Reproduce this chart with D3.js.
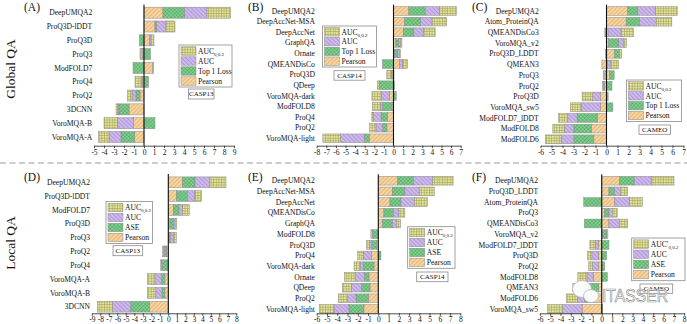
<!DOCTYPE html>
<html><head><meta charset="utf-8">
<script src="https://cdn.jsdelivr.net/npm/d3@7"></script>
<style>
body{margin:0;background:#fff}
svg text{font-family:"Liberation Serif","Times New Roman",serif;fill:#111}
</style></head><body>
<svg id="c" width="687" height="324"></svg>
<script>
// ---------------- DATA ----------------
const keys = ["pearson","top1","auc","auc02"];

// (A) CASP13 global
const modelsA = ["DeepUMQA2","ProQ3D-lDDT","ProQ3D","ProQ3","ModFOLD7","ProQ4","ProQ2","3DCNN","VoroMQA-B","VoroMQA-A"];
const pearsonA = [1.9, 1.1, 0.55, -0.05, 0.85, -0.15, -0.4, -1.5, -1.05, -0.95];
const top1A    = [2.17, 0.17, -0.45, 0.65, -1.05, 0.45, -0.4, -1.0, 1.1, -1.35];
const aucA     = [2.23, 0.93, 0.15, -0.15, -0.05, -0.1, -0.4, -0.1, -1.6, -1.2];
const auc02A   = [2.37, 0.9, 0.3, -0.2, 0.12, -0.65, -0.45, -0.2, -1.35, -1.05];
const ticksA   = [-5,-4,-3,-2,-1,0,1,2,3,4,5,6,7,8,9];

// (B) CASP14 global
const modelsB = ["DeepUMQA2","DeepAccNet-MSA","DeepAccNet","GraphQA","Ornate","QMEANDisCo","ProQ3D","QDeep","VoroMQA-dark","ModFOLD8","ProQ4","ProQ2","VoroMQA-light"];
const pearsonB = [1.6, 1.15, 1.04, 0.25, 0.1, 0.62, -0.15, 0.05, -0.45, -0.15, -0.63, -0.69, -2.53];
const top1B    = [1.7, 1.67, 1.08, 0.3, 0.35, -1.15, 0.05, -1.5, 0.28, -1.0, -0.66, -0.45, -0.52];
const aucB     = [1.5, 1.2, 1.04, 0.15, 0.15, 0.35, -0.1, 0.05, -0.83, -0.2, -0.8, -0.69, -2.47];
const auc02B   = [1.75, 1.52, 1.18, 0.18, 0.12, 0.49, -0.45, -0.17, -0.97, -0.85, -0.17, -0.66, -1.84];
const ticksB   = [-8,-7,-6,-5,-4,-3,-2,-1,0,1,2,3,4,5,6,7];

// (C) CAMEO global
const modelsC = ["DeepUMQA2","Atom_ProteinQA","QMEANDisCo3","VoroMQA_v2","ProQ3D_LDDT","QMEAN3","ProQ3","ProQ2","ProQ3D","VoroMQA_sw5","ModFOLD7_lDDT","ModFOLD8","ModFOLD6"];
const pearsonC = [1.94, 1.79, 0.15, 0.18, 0.73, -0.42, 0.3, -0.2, -0.55, -0.55, -0.85, -1.39, -1.15];
const top1C    = [0.91, 1.21, -0.15, 0.94, 0.45, 0.1, 0.4, 0.5, 0.15, 0.58, -1.82, -1.58, -1.82];
const aucC     = [1.58, 1.52, 1.18, 0.42, -0.1, 0.25, -0.15, -0.1, -0.7, -1.76, -0.85, -0.85, -1.15];
const auc02C   = [2.0, 1.42, 1.12, 0.27, 0.2, 0.75, -0.15, -0.06, -0.97, -0.97, -0.85, -1.06, -1.45];
const ticksC   = [-6,-5,-4,-3,-2,-1,0,1,2,3,4,5,6,7];

// (D) CASP13 local
const modelsD = ["DeepUMQA2","ProQ3D-lDDT","ModFOLD7","ProQ3D","ProQ3","ProQ2","ProQ4","VoroMQA-A","VoroMQA-B","3DCNN"];
const pearsonD = [1.69, 0.98, 0.59, 0.2, 0.1, -0.2, -0.1, -0.4, -0.4, -2.24];
const aseD     = [1.45, 1.25, 0.67, 0.4, 0.15, -0.25, -0.6, -0.4, -0.35, -2.2];
const aucD     = [1.69, 0.9, 0.43, 0.2, 0.4, -0.1, -0.1, -0.78, -0.72, -2.12];
const auc02D   = [1.96, 0.78, 0.78, 0.2, 0.3, -0.12, -0.1, -0.9, -1.0, -1.8];
const ticksD   = [-9,-8,-7,-6,-5,-4,-3,-2,-1,0,1,2,3,4,5,6,7,8];

// (E) CASP14 local
const modelsE = ["DeepUMQA2","DeepAccNet-MSA","DeepAccNet","QMEANDisCo","GraphQA","ModFOLD8","ProQ3D","ProQ4","VoroMQA-dark","Ornate","QDeep","ProQ2","VoroMQA-light"];
const pearsonE = [1.88, 1.36, 1.14, 0.55, 0.39, -0.1, -0.15, -0.65, -0.42, -0.91, -0.81, -0.97, -1.4];
const aseE     = [1.53, 1.23, 1.07, 0.91, 0.97, -0.4, -0.5, 0.26, -1.04, -0.45, -0.81, -1.2, -1.46];
const aucE     = [1.88, 1.4, 1.3, 0.55, 0.42, -0.1, -0.2, -0.81, -0.32, -0.84, -0.97, -0.81, -1.46];
const auc02E   = [2.0, 1.46, 1.27, 0.58, 0.39, -0.12, -0.3, -0.55, -0.58, -1.1, -0.91, -0.91, -1.43];
const ticksE   = [-6,-5,-4,-3,-2,-1,0,1,2,3,4,5,6,7,8];

// (F) CAMEO local
const modelsF = ["DeepUMQA2","ProQ3D_LDDT","Atom_ProteinQA","ProQ3","QMEANDisCo3","VoroMQA_v2","ModFOLD7_lDDT","ProQ3D","ProQ2","ModFOLD8","QMEAN3","ModFOLD6","VoroMQA_sw5"];
const pearsonF = [1.72, 0.7, 1.27, 0.29, 0.7, 0.05, -0.32, -0.32, -0.35, -0.83, -0.3, -1.05, -1.91];
const aseF     = [1.43, 0.54, -1.75, 0.41, -1.69, 0.4, 0.7, 0.48, 0.29, 0.54, -1.5, -0.65, 0.1];
const aucF     = [1.69, 0.57, 1.43, 0.32, 1.02, 0.05, -0.32, -0.64, -0.54, -0.6, -0.4, -0.65, -1.91];
const auc02F   = [2.17, 0.7, 1.24, 0.48, 0.8, 0.1, -0.51, -0.41, -0.38, -0.89, -0.6, -1.1, -1.46];
const ticksF   = [-6,-5,-4,-3,-2,-1,0,1,2,3,4,5,6,7,8];

const legendGlobal = ["AUC|0,0.2","AUC","Top 1 Loss","Pearson"];
const legendLocal  = ["AUC|0,0.2","AUC","ASE","Pearson"];
const legendLocalF = ["AUC′|0,0.2","AUC","ASE","Pearson"];

// ---------------- DRAWING ----------------
const svg = d3.select("#c");
const defs = svg.append("defs");

function makePattern(id, bg, size, rot, lines, stroke, sw){
  const p = defs.append("pattern").attr("id", id).attr("patternUnits","userSpaceOnUse")
    .attr("width", size).attr("height", size);
  if (rot) p.attr("patternTransform", `rotate(${rot})`);
  p.append("rect").attr("width", size).attr("height", size).attr("fill", bg);
  lines.forEach(l => p.append("line").attr("x1",l[0]).attr("y1",l[1]).attr("x2",l[2]).attr("y2",l[3])
     .attr("stroke", stroke).attr("stroke-width", sw));
}
makePattern("pat-pearson", "#f6d4a2", 3, 45, [[0,0,0,3]], "#d89a4e", 1.0);
makePattern("pat-auc", "#cdb9ea", 3, -45, [[0,0,0,3]], "#9878c8", 1.0);
makePattern("pat-top1", "#86cf92", 2.6, 45, [[0,0,0,2.6],[0,0,2.6,0]], "#3f9c55", 0.8);
makePattern("pat-auc02", "#e4e4a4", 2.6, 0, [[0.3,0,0.3,2.6],[0,0.3,2.6,0.3]], "#a2a24e", 0.7);

const legendKeys = ["auc02","auc","top1","pearson"];

const panels = [
  {tag:"(A)", tagPos:[24,10.5], models:modelsA, vals:[pearsonA,top1A,aucA,auc02A], ticks:ticksA,
   domain:[-5,9], xr:[94,234], yr:[12.7,137], bar:0.8, axisY:145.7,
   legend:legendGlobal, lg:{x:179,y:45,w:53,h:42}, ds:"CASP13", dsBox:{x:188.5,y:89,w:25.5,h:10}},
  {tag:"(B)", tagPos:[248,10.5], models:modelsB, vals:[pearsonB,top1B,aucB,auc02B], ticks:ticksB,
   domain:[-8,7], xr:[316.7,460.7], yr:[11,138.3], bar:0.82, axisY:145.7,
   legend:legendGlobal, lg:{x:322.5,y:26,w:54,h:41}, ds:"CASP14", dsBox:{x:334,y:70.7,w:31,h:9.5}},
  {tag:"(C)", tagPos:[472,10.5], models:modelsC, vals:[pearsonC,top1C,aucC,auc02C], ticks:ticksC,
   domain:[-6,7], xr:[540.5,683.5], yr:[11,139.3], bar:0.82, axisY:145.7,
   legend:legendGlobal, lg:{x:626.5,y:80,w:55,h:41.5}, ds:"CAMEO", dsBox:{x:639,y:125,w:31.5,h:9.3}},
  {tag:"(D)", tagPos:[24,181], models:modelsD, vals:[pearsonD,aseD,aucD,auc02D], ticks:ticksD,
   domain:[-9,8], xr:[91.8,236.3], yr:[182.3,306.7], bar:0.78, axisY:313.3,
   legend:legendLocal, lg:{x:106,y:201.5,w:46.5,h:42}, ds:"CASP13", dsBox:{x:113,y:245.7,w:29.7,h:10}},
  {tag:"(E)", tagPos:[248,181], models:modelsE, vals:[pearsonE,aseE,aucE,auc02E], ticks:ticksE,
   domain:[-6,8], xr:[316.7,460.4], yr:[180.7,309], bar:0.82, axisY:313.3,
   legend:legendLocal, lg:{x:407.7,y:226.7,w:47.3,h:41.6}, ds:"CASP14", dsBox:{x:416.7,y:272,w:31.3,h:9.7}},
  {tag:"(F)", tagPos:[472,181], models:modelsF, vals:[pearsonF,aseF,aucF,auc02F], ticks:ticksF,
   domain:[-6,8], xr:[539.9,684.2], yr:[180.7,309], bar:0.82, axisY:313.3,
   legend:legendLocalF, lg:{x:631.7,y:238,w:53.3,h:42.7}, ds:"CAMEO", dsBox:{x:640,y:284,w:32.7,h:9.3}}
];

function drawPanel(p){
  const g = svg.append("g");
  const x = d3.scaleLinear().domain(p.domain).range(p.xr);
  const y = d3.scalePoint().domain(p.models).range(p.yr);
  const bh = y.step() * p.bar;
  const rows = p.models.map((m,i) => ({model:m, pearson:p.vals[0][i], top1:p.vals[1][i], auc:p.vals[2][i], auc02:p.vals[3][i]}));
  const series = d3.stack().keys(keys).offset(d3.stackOffsetDiverging)(rows);
  series.forEach(s => {
    g.append("g").selectAll("rect").data(s).join("rect")
      .attr("x", d => x(Math.min(d[0], d[1])))
      .attr("width", d => Math.abs(x(d[1]) - x(d[0])))
      .attr("y", d => y(d.data.model) - bh/2)
      .attr("height", bh)
      .attr("fill", `url(#pat-${s.key})`)
      .attr("stroke", "#8a8a8a").attr("stroke-width", 0.5);
  });
  // bottom axis
  const ax = g.append("g").attr("transform", `translate(0,${p.axisY})`)
    .call(d3.axisBottom(x).tickValues(p.ticks).tickFormat(d => String(d)).tickSize(2.5).tickSizeOuter(0).tickPadding(1));
  ax.select(".domain").attr("stroke", "#222").attr("stroke-width", 0.8);
  ax.selectAll(".tick line").attr("stroke", "#222").attr("stroke-width", 0.8);
  ax.selectAll("text").attr("font-size", 7.5).attr("font-family", "Liberation Serif").attr("fill", "#111");
  // zero line
  g.append("line").attr("x1", x(0)).attr("x2", x(0))
    .attr("y1", p.yr[0] - y.step()*0.6).attr("y2", p.axisY)
    .attr("stroke", "#111").attr("stroke-width", 1.1);
  // row labels
  g.append("g").selectAll("text").data(p.models).join("text")
    .attr("x", p.xr[0] - 1.8).attr("y", d => y(d)).attr("dy", "0.35em")
    .attr("text-anchor", "end").attr("font-size", 7.6).text(d => d);
  // panel tag
  g.append("text").attr("x", p.tagPos[0]).attr("y", p.tagPos[1]).attr("font-size", 11.5).text(p.tag);
  // legend
  const lg = g.append("g");
  lg.append("rect").attr("x", p.lg.x).attr("y", p.lg.y).attr("width", p.lg.w).attr("height", p.lg.h)
    .attr("fill", "#fff").attr("stroke", "#8a8a8a").attr("stroke-width", 0.8);
  const rowStep = (p.lg.h - 2) / 4;
  p.legend.forEach((lab, i) => {
    const cy = p.lg.y + 1 + rowStep * (i + 0.5);
    lg.append("rect").attr("x", p.lg.x + 2).attr("y", cy - 4.2).attr("width", 15).attr("height", 8.4)
      .attr("fill", `url(#pat-${legendKeys[i]})`).attr("stroke", "#8a8a8a").attr("stroke-width", 0.5);
    const t = lg.append("text").attr("x", p.lg.x + 19).attr("y", cy + 2.7).attr("font-size", 7.6);
    const parts = lab.split("|");
    t.append("tspan").text(parts[0]);
    if (parts[1]) t.append("tspan").attr("font-size", 5).attr("dy", 2).text(parts[1]);
  });
  // dataset box
  g.append("rect").attr("x", p.dsBox.x).attr("y", p.dsBox.y).attr("width", p.dsBox.w).attr("height", p.dsBox.h)
    .attr("fill", "#fff").attr("stroke", "#8a8a8a").attr("stroke-width", 0.8);
  g.append("text").attr("x", p.dsBox.x + p.dsBox.w/2).attr("y", p.dsBox.y + p.dsBox.h/2).attr("dy", "0.35em")
    .attr("text-anchor", "middle").attr("font-size", 7).text(p.ds);
}
panels.forEach(drawPanel);

// row titles
svg.append("text").attr("transform", "translate(15,69) rotate(-90)").attr("text-anchor", "middle")
  .attr("font-size", 13.5).text("Global QA");
svg.append("text").attr("transform", "translate(15,243) rotate(-90)").attr("text-anchor", "middle")
  .attr("font-size", 13.5).text("Local QA");

// dashed separator
svg.append("line").attr("x1", 0).attr("x2", 687).attr("y1", 163).attr("y2", 163)
  .attr("stroke", "#9a9a9a").attr("stroke-width", 1).attr("stroke-dasharray", "6,3.5");

// watermark
const wm = svg.append("g").attr("opacity", 0.95);
wm.append("ellipse").attr("cx", 582).attr("cy", 289).attr("rx", 9.5).attr("ry", 8.5)
  .attr("fill", "#fff").attr("stroke", "#b5b5b5").attr("stroke-width", 0.8);
wm.append("ellipse").attr("cx", 591).attr("cy", 296).attr("rx", 7.5).attr("ry", 6.5)
  .attr("fill", "#fff").attr("stroke", "#b5b5b5").attr("stroke-width", 0.8);
wm.append("text").attr("x", 602).attr("y", 302).attr("font-family", "Liberation Sans")
  .style("font-family", "Liberation Sans").attr("font-size", 18).attr("textLength", 66)
  .attr("lengthAdjust", "spacingAndGlyphs").style("fill", "#fff")
  .attr("stroke", "#8a8a8a").attr("stroke-width", 0.7).text("ITASSER");
</script>
</body></html>
